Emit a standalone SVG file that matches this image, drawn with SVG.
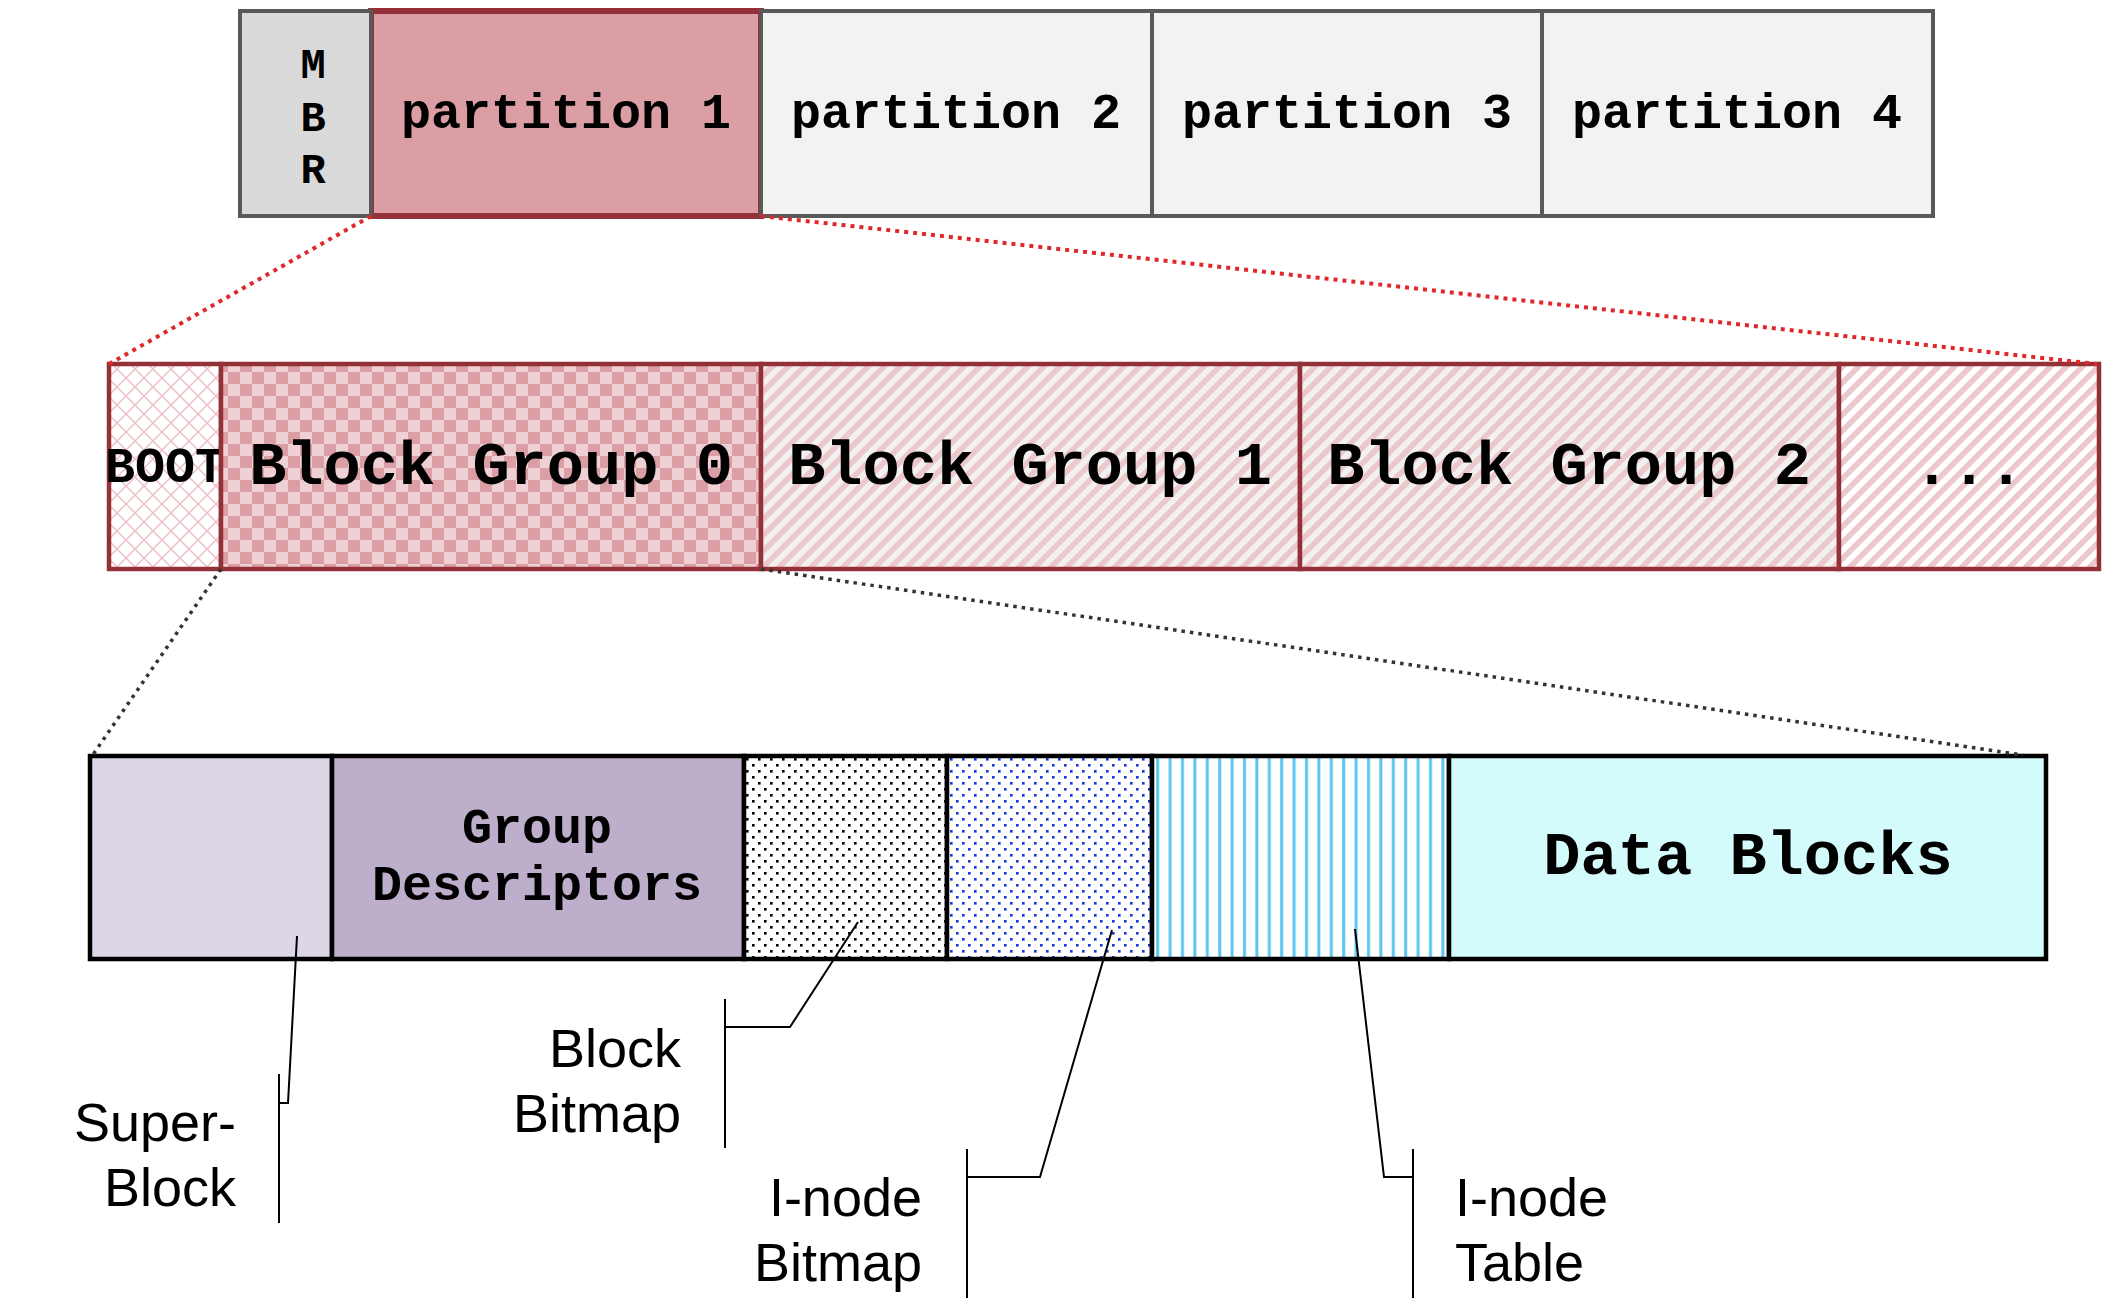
<svg xmlns="http://www.w3.org/2000/svg" width="2112" height="1300" viewBox="0 0 2112 1300">
<style>
.mono{font-family:"Liberation Mono","Courier New",monospace;font-weight:bold;fill:#000;text-anchor:middle}
.lbl{font-family:"Liberation Sans",Arial,sans-serif;font-size:54px;fill:#000}
.top{stroke:#595959;stroke-width:4}
.mid{stroke:#943038;stroke-width:4.5}
.bot{stroke:#000;stroke-width:4.5}
.lead{fill:none;stroke:#000;stroke-width:2}
.red{fill:none;stroke:#e0282a;stroke-width:4;stroke-dasharray:4 5}
.dark{fill:none;stroke:#333;stroke-width:3.5;stroke-dasharray:3.5 5}
</style>
<defs>
<pattern id="checker" width="24" height="24" patternUnits="userSpaceOnUse">
<rect width="24" height="24" fill="#efd0d5"/>
<rect width="12" height="12" fill="#dc9ea5"/>
<rect x="12" y="12" width="12" height="12" fill="#dc9ea5"/>
</pattern>
<pattern id="diagGray" width="11.3" height="20" patternUnits="userSpaceOnUse" patternTransform="rotate(45)">
<rect width="11.3" height="20" fill="#f3f0f0"/>
<rect width="5.6" height="20" fill="#ebc8cc"/>
</pattern>
<pattern id="diagWhite" width="11.3" height="20" patternUnits="userSpaceOnUse" patternTransform="rotate(45)">
<rect width="11.3" height="20" fill="#fff"/>
<rect width="5.6" height="20" fill="#ebc8cc"/>
</pattern>
<pattern id="diamond" width="18" height="18" patternUnits="userSpaceOnUse">
<rect width="18" height="18" fill="#fff"/>
<path d="M0,0 L18,18 M18,0 L0,18" stroke="#eec0c5" stroke-width="1.5"/>
</pattern>
<pattern id="dotsK" width="12" height="12" patternUnits="userSpaceOnUse">
<rect width="12" height="12" fill="#fff"/>
<rect x="2" y="2" width="2.6" height="2.6" fill="#000"/>
<rect x="8" y="8" width="2.6" height="2.6" fill="#000"/>
</pattern>
<pattern id="dotsB" width="12" height="12" patternUnits="userSpaceOnUse">
<rect width="12" height="12" fill="#fff"/>
<rect x="2" y="2" width="2.6" height="2.6" fill="#1438d8"/>
<rect x="8" y="8" width="2.6" height="2.6" fill="#1438d8"/>
</pattern>
<pattern id="vstripe" width="12.4" height="20" patternUnits="userSpaceOnUse">
<rect width="12.4" height="20" fill="#fff"/>
<rect x="3" width="3" height="20" fill="#5bc5f2"/>
</pattern>
</defs>
<rect width="2112" height="1300" fill="#fff"/>

<g id="partition1">
<rect x="371" y="11" width="390" height="205" fill="#dc9ea5" stroke="#943038" stroke-width="6"/>
<text class="mono" x="566" y="128" font-size="50">partition 1</text>
</g>
<g id="mbr">
<rect class="top" x="240" y="11" width="131" height="205" fill="#d9d9d9" stroke="#333"/>
<text class="mono" x="313" y="78" font-size="42">M</text>
<text class="mono" x="313" y="131" font-size="42">B</text>
<text class="mono" x="313" y="183" font-size="42">R</text>
</g>
<g id="partition2">
<rect class="top" x="761" y="11" width="391" height="205" fill="#f2f2f2"/>
<text class="mono" x="956" y="128" font-size="50">partition 2</text>
</g>
<g id="partition3">
<rect class="top" x="1152" y="11" width="390" height="205" fill="#f2f2f2"/>
<text class="mono" x="1347" y="128" font-size="50">partition 3</text>
</g>
<g id="partition4">
<rect class="top" x="1542" y="11" width="391" height="205" fill="#f2f2f2"/>
<text class="mono" x="1737" y="128" font-size="50">partition 4</text>
</g>

<g id="boot">
<rect class="mid" x="109" y="364" width="112" height="205" fill="url(#diamond)"/>
<text class="mono" x="165" y="482" font-size="50">BOOT</text>
</g>
<g id="bg0">
<rect class="mid" x="221" y="364" width="540" height="205" fill="url(#checker)"/>
<text class="mono" x="491" y="484" font-size="62">Block Group 0</text>
</g>
<g id="bg1">
<rect class="mid" x="761" y="364" width="539" height="205" fill="url(#diagGray)"/>
<text class="mono" x="1030" y="484" font-size="62">Block Group 1</text>
</g>
<g id="bg2">
<rect class="mid" x="1300" y="364" width="539" height="205" fill="url(#diagGray)"/>
<text class="mono" x="1569" y="484" font-size="62">Block Group 2</text>
</g>
<g id="more">
<rect class="mid" x="1839" y="364" width="260" height="205" fill="url(#diagWhite)"/>
<text class="mono" x="1969" y="484" font-size="62">...</text>
</g>

<g id="superblock">
<rect class="bot" x="90" y="756" width="242" height="203" fill="#dcd6e6"/>
</g>
<g id="groupdesc">
<rect class="bot" x="332" y="756" width="412" height="203" fill="#bdaecb"/>
<text class="mono" x="537" y="843" font-size="50">Group</text>
<text class="mono" x="537" y="900" font-size="50">Descriptors</text>
</g>
<g id="blockbitmap">
<rect class="bot" x="744" y="756" width="203" height="203" fill="url(#dotsK)"/>
</g>
<g id="inodebitmap">
<rect class="bot" x="947" y="756" width="205" height="203" fill="url(#dotsB)"/>
</g>
<g id="inodetable">
<rect class="bot" x="1152" y="756" width="297" height="203" fill="url(#vstripe)"/>
</g>
<g id="datablocks">
<rect class="bot" x="1449" y="756" width="597" height="203" fill="#d4fbfc"/>
<text class="mono" x="1748" y="874" font-size="62">Data Blocks</text>
</g>

<g id="connectors">
<line class="red" x1="371" y1="216" x2="109" y2="364"/>
<line class="red" x1="761" y1="216" x2="2097" y2="364"/>
<line class="dark" x1="221" y1="569" x2="92" y2="756"/>
<line class="dark" x1="761" y1="569" x2="2023" y2="755"/>
<polyline class="lead" points="297,936 288,1103 279,1103"/>
<line class="lead" x1="279" y1="1074" x2="279" y2="1223"/>
<polyline class="lead" points="858,922 790,1027 725,1027"/>
<line class="lead" x1="725" y1="999" x2="725" y2="1148"/>
<polyline class="lead" points="1112,930 1040,1177 967,1177"/>
<line class="lead" x1="967" y1="1149" x2="967" y2="1298"/>
<polyline class="lead" points="1355,929 1384,1177 1413,1177"/>
<line class="lead" x1="1413" y1="1149" x2="1413" y2="1298"/>
</g>

<g id="label-superblock">
<text class="lbl" x="236" y="1141" text-anchor="end">Super-</text>
<text class="lbl" x="236" y="1206" text-anchor="end">Block</text>
</g>
<g id="label-blockbitmap">
<text class="lbl" x="681" y="1067" text-anchor="end">Block</text>
<text class="lbl" x="681" y="1132" text-anchor="end">Bitmap</text>
</g>
<g id="label-inodebitmap">
<text class="lbl" x="922" y="1216" text-anchor="end">I-node</text>
<text class="lbl" x="922" y="1281" text-anchor="end">Bitmap</text>
</g>
<g id="label-inodetable">
<text class="lbl" x="1455" y="1216">I-node</text>
<text class="lbl" x="1455" y="1281">Table</text>
</g>
</svg>
